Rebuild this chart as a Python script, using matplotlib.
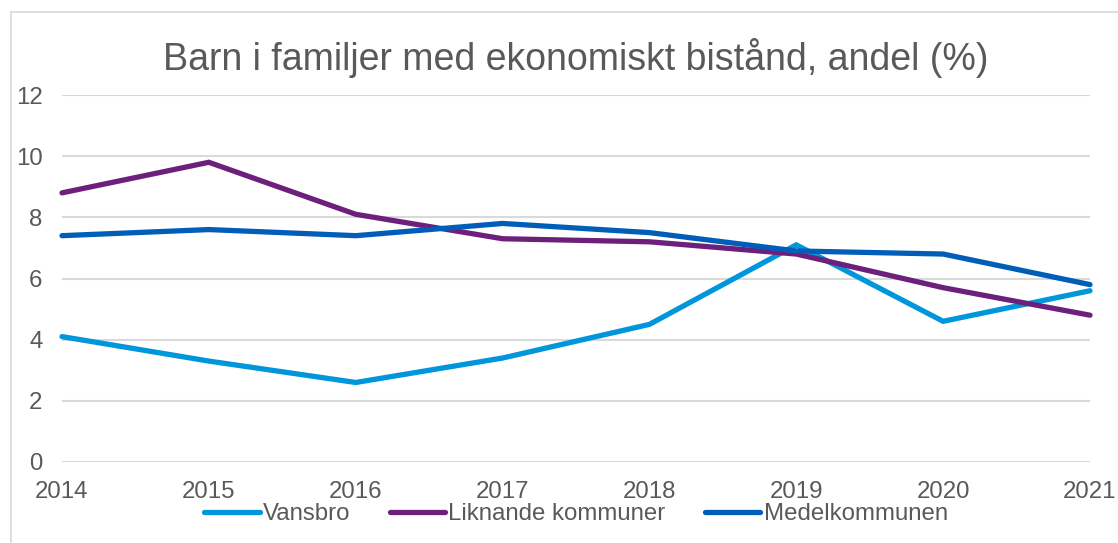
import matplotlib.pyplot as plt
from matplotlib.patches import Rectangle

plt.rcParams['font.family'] = ['Liberation Sans', 'DejaVu Sans']

years = [2014, 2015, 2016, 2017, 2018, 2019, 2020, 2021]
vansbro = [4.1, 3.3, 2.6, 3.4, 4.5, 7.1, 4.6, 5.6]
liknande = [8.8, 9.8, 8.1, 7.3, 7.2, 6.8, 5.7, 4.8]
medel = [7.4, 7.6, 7.4, 7.8, 7.5, 6.9, 6.8, 5.8]
labels = ["Vansbro", "Liknande kommuner", "Medelkommunen"]
colors = ["#0096DB", "#6C1F7B", "#005EB8"]
yticks = [0, 2, 4, 6, 8, 10, 12]

text_color = "#595959"
grid_color = "#D9D9D9"

fig = plt.figure(figsize=(11.18, 5.43), dpi=100)
# chart frame (cut off on the right and bottom)
fig.patches.append(Rectangle((11 / 1118, -0.1), 1.2, 1 - 12 / 543 + 0.1,
                             transform=fig.transFigure, fill=False,
                             edgecolor=grid_color, linewidth=1.2))

ax = fig.add_axes([62 / 1118, 1 - 462 / 543, (1090 - 62) / 1118, (462 - 95) / 543])

for series, label, color in zip([vansbro, liknande, medel], labels, colors):
    ax.plot(years, series, color=color, linewidth=3.8, label=label,
            solid_joinstyle="miter", solid_capstyle="round", clip_on=False)

ax.set_xlim(2014, 2021)
ax.set_ylim(0, 12)
ax.set_yticks(yticks)
ax.set_xticks(years)
ax.grid(axis="y", color=grid_color, linewidth=1.5)
ax.set_axisbelow(True)
for s in ax.spines.values():
    s.set_visible(False)
ax.tick_params(length=0, labelsize=17.3, colors=text_color)
ax.tick_params(axis="y", pad=14)
ax.tick_params(axis="x", pad=14)

ax.set_title("Barn i familjer med ekonomiskt bistånd, andel (%)",
             fontsize=27, color=text_color, pad=18)

ax.legend(loc="center", bbox_to_anchor=(0.5, -0.142), ncol=3,
          frameon=False, fontsize=17.3, labelcolor=text_color,
          handlelength=2.3, handletextpad=0.13, columnspacing=1.65)

plt.savefig("out.png", dpi=100)
